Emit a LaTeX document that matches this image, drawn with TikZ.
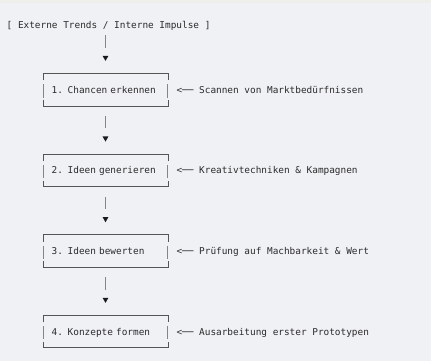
\documentclass[tikz,border=0pt]{standalone}
\usepackage{fontspec}
\setmonofont{DejaVu Sans Mono}
\usetikzlibrary{shapes.geometric}
\definecolor{bgcol}{HTML}{F0F1F5}
\definecolor{bandcol}{HTML}{EEEEEB}
\definecolor{txtcol}{HTML}{2B2B2B}
\definecolor{hcol}{HTML}{555555}
\definecolor{vcol}{HTML}{6A88BA}
\definecolor{tricol}{HTML}{1A1A1A}
\newcommand\asciibox[1]{%
  \draw[hline] ([yshift=-7pt]#1.north west) -- (#1.north west) -- (#1.north east) -- ([yshift=-7pt]#1.north east);
  \draw[hline] ([yshift=6pt]#1.south west) -- (#1.south west) -- (#1.south east) -- ([yshift=6pt]#1.south east);
  \draw[vline] ([yshift=-10.8pt]#1.north west) -- ([yshift=8.4pt]#1.south west);
  \draw[vline] ([yshift=-10.8pt]#1.north east) -- ([yshift=8.4pt]#1.south east);
}
\begin{document}
\begin{tikzpicture}[x=1pt,y=-1pt,
  every node/.style={font=\ttfamily\fontsize{9.4}{11}\selectfont, text=txtcol},
  box/.style={minimum width=124.4pt, text width=107.6pt, align=left,
    inner xsep=8.4pt, inner ysep=12.5pt, text height=7pt, text depth=0pt},
  note/.style={anchor=west, inner sep=0pt, text height=7pt, text depth=0pt},
  hline/.style={draw=hcol, line width=0.8pt},
  vline/.style={draw=vcol, line width=0.9pt},
  tri/.style={regular polygon, regular polygon sides=3, shape border rotate=180,
    fill=tricol, inner sep=0pt, minimum size=6.8pt},
  conn/.style={vline, shorten >=25.8pt}
]
\useasboundingbox (0,0) rectangle (431,361);
\fill[bgcol] (0,0) rectangle (431,361);
\fill[bandcol] (0,0) rectangle (431,3);

\node[note] (hdr) at (6.5,25.5) {[ Externe Trends / Interne Impulse ]};

\node[box] (b1) at (105.5,89.7)  {1. Chancen erkennen};
\node[box] (b2) at (105.5,170.35) {2. Ideen generieren};
\node[box] (b3) at (105.5,251.0) {3. Ideen bewerten};
\node[box] (b4) at (105.5,331.65) {4. Konzepte formen};

\asciibox{b1}
\asciibox{b2}
\asciibox{b3}
\asciibox{b4}

\node[note] (n1) at ([xshift=8.45pt]b1.east) {<── Scannen von Marktbedürfnissen};
\node[note] (n2) at ([xshift=8.45pt]b2.east) {<── Kreativtechniken \& Kampagnen};
\node[note] (n3) at ([xshift=8.45pt]b3.east) {<── Prüfung auf Machbarkeit \& Wert};
\node[note] (n4) at ([xshift=8.45pt]b4.east) {<── Ausarbeitung erster Prototypen};

\draw[conn, shorten <=6pt] (b1.north |- hdr.south) -- (b1.north);
\draw[conn, shorten <=10pt] (b1.south) -- (b2.north);
\draw[conn, shorten <=10pt] (b2.south) -- (b3.north);
\draw[conn, shorten <=10pt] (b3.south) -- (b4.north);

\node[tri] (t1) at ([yshift=16pt]b1.north) {};
\node[tri] (t2) at ([yshift=16pt]b2.north) {};
\node[tri] (t3) at ([yshift=16pt]b3.north) {};
\node[tri] (t4) at ([yshift=16pt]b4.north) {};
\end{tikzpicture}
\end{document}
